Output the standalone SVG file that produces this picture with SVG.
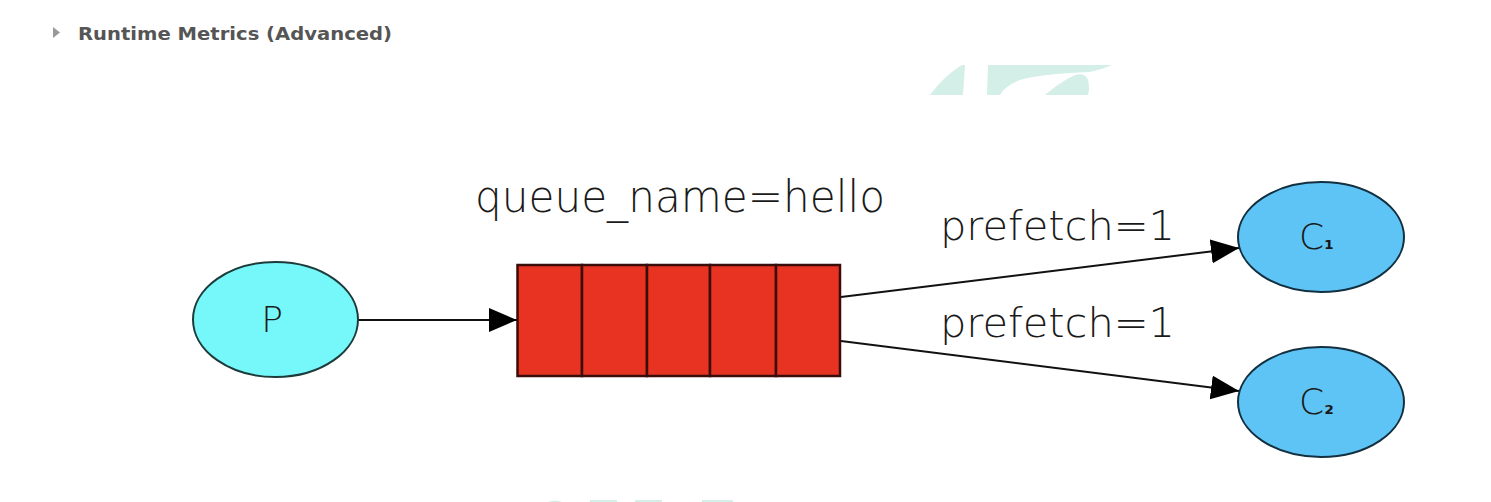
<svg xmlns="http://www.w3.org/2000/svg" width="1491" height="502" viewBox="0 0 1491 502">
<defs>
<style>
.hdr{font-family:Verdana,"DejaVu Sans",sans-serif;font-weight:bold;font-size:17px;fill:#555555}
.lbl{font-family:"DejaVu Sans","Liberation Sans",sans-serif;font-weight:200;fill:#1a1a1a}
.edge{stroke:#111111;stroke-width:2;fill:none}
.cell{fill:#e83222;stroke:#3a0d08;stroke-width:2.5}
.wm{fill:#d4efe8}
</style>
<marker id="ah" viewBox="0 0 10 10" refX="10" refY="5" markerWidth="28" markerHeight="24" markerUnits="userSpaceOnUse" orient="auto" preserveAspectRatio="none">
<path d="M0,0 L10,5 L0,10 Z" fill="#000"/>
</marker>
</defs>
<rect width="1491" height="502" fill="#ffffff"/>
<g id="watermark">
<path class="wm" d="M930,95 Q945,75 962,65 L965,65 L963,95 Z"/>
<path class="wm" d="M988,65 L1112,65 Q1100,70 1090,72 Q1040,74 1020,80 Q1005,86 1000,95 L987,95 Z"/>
<path class="wm" d="M1045,95 Q1060,82 1075,75 Q1085,72 1088,80 Q1090,88 1088,95 Z"/>
<path class="wm" d="M548,502 Q555,499 562,502 Z M590,502 L590,500 L617,500 L617,502 Z M635,502 L635,500 L662,500 L662,502 Z M702,502 L702,500 L733,500 L733,502 Z"/>
</g>
<g id="header">
<path d="M53,27 L60,32.5 L53,38 Z" fill="#999999"/>
<text class="hdr" x="78" y="40" textLength="314" lengthAdjust="spacingAndGlyphs">Runtime Metrics (Advanced)</text>
</g>
<g id="connectors">
<line class="edge" x1="358" y1="320" x2="517" y2="320" marker-end="url(#ah)"/>
<line class="edge" x1="841" y1="297" x2="1239" y2="248" marker-end="url(#ah)"/>
<line class="edge" x1="841" y1="341" x2="1239" y2="391" marker-end="url(#ah)"/>
<text class="lbl" x="940" y="240" font-size="40" textLength="235" lengthAdjust="spacingAndGlyphs">prefetch=1</text>
<text class="lbl" x="940" y="337" font-size="40" textLength="235" lengthAdjust="spacingAndGlyphs">prefetch=1</text>
</g>
<g id="P">
<ellipse cx="275.5" cy="319.5" rx="82.5" ry="57.5" fill="#76f8fa" stroke="#1d3b3b" stroke-width="2"/>
<text class="lbl" x="272" y="332" font-size="36" text-anchor="middle">P</text>
</g>
<g id="queue">
<text class="lbl" x="475" y="212" font-size="44" textLength="410" lengthAdjust="spacingAndGlyphs">queue_name=hello</text>
<rect class="cell" x="517.5" y="265" width="64.5" height="111"/>
<rect class="cell" x="582" y="265" width="65" height="111"/>
<rect class="cell" x="647" y="265" width="63" height="111"/>
<rect class="cell" x="710" y="265" width="66" height="111"/>
<rect class="cell" x="776" y="265" width="64" height="111"/>
</g>
<g id="C1">
<ellipse cx="1321" cy="237" rx="83" ry="55" fill="#5ec4f6" stroke="#12303f" stroke-width="2"/>
<text class="lbl" x="1299" y="249" font-size="36">C<tspan font-size="22" font-weight="bold">₁</tspan></text>
</g>
<g id="C2">
<ellipse cx="1321" cy="402" rx="83" ry="55" fill="#5ec4f6" stroke="#12303f" stroke-width="2"/>
<text class="lbl" x="1299" y="414" font-size="36">C<tspan font-size="22" font-weight="bold">₂</tspan></text>
</g>
</svg>
